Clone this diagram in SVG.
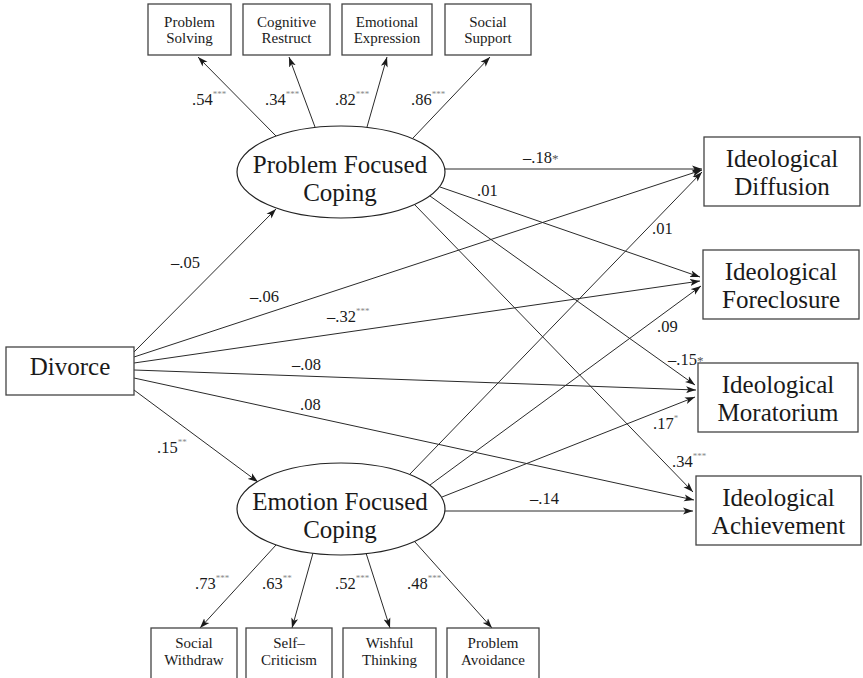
<svg xmlns="http://www.w3.org/2000/svg" width="863" height="678" viewBox="0 0 863 678" font-family="'Liberation Serif', 'Times New Roman', 'DejaVu Serif', serif">
<style>
.box{fill:#fff;stroke:#444;stroke-width:1.3}
.ell{fill:#fff;stroke:#222;stroke-width:1.2}
text{font-family:'Liberation Serif','Times New Roman','DejaVu Serif',serif}
.t{fill:#1a1a1a;text-anchor:middle}
.big{font-size:25px}
.sm{font-size:15px}
.lab{fill:#1a1a1a;font-size:16.5px}
.st{font-size:9px;fill:#888}
.st2{font-size:13px;fill:#555}
.c line{stroke:#2a2a2a;stroke-width:1;marker-end:url(#ah)}
</style>
<defs>
<marker id="ah" markerUnits="userSpaceOnUse" markerWidth="11" markerHeight="8" refX="10" refY="4" orient="auto">
<path d="M0,0.5 L10,4 L0,7.5 L2.5,4 Z" fill="#1a1a1a"/>
</marker>
</defs>
<rect width="863" height="678" fill="#fff"/>
<g class="c" id="connectors">
<line x1="276" y1="136" x2="198" y2="57"/>
<line x1="315" y1="127" x2="289" y2="57"/>
<line x1="367" y1="127" x2="387" y2="57"/>
<line x1="413" y1="138" x2="490" y2="57"/>
<line x1="134" y1="352" x2="276" y2="209"/>
<line x1="134" y1="357" x2="702" y2="170"/>
<line x1="134" y1="363" x2="700" y2="281"/>
<line x1="134" y1="370" x2="696" y2="390"/>
<line x1="134" y1="378" x2="694" y2="500"/>
<line x1="134" y1="390" x2="258" y2="482"/>
<line x1="445" y1="169" x2="702" y2="169"/>
<line x1="440" y1="187" x2="700" y2="277"/>
<line x1="430" y1="196" x2="695" y2="385"/>
<line x1="415" y1="205" x2="693" y2="492"/>
<line x1="410" y1="474" x2="702" y2="172"/>
<line x1="430" y1="485" x2="701" y2="286"/>
<line x1="442" y1="497" x2="695" y2="397"/>
<line x1="445" y1="511" x2="693" y2="511"/>
<line x1="276" y1="545" x2="200" y2="628"/>
<line x1="313" y1="553" x2="292" y2="628"/>
<line x1="366" y1="553" x2="390" y2="628"/>
<line x1="415" y1="542" x2="492" y2="628"/>
</g>
<g id="problem-solving"><rect class="box" x="148" y="4" width="83" height="51"/><text class="t sm" x="189.5" y="27">Problem</text><text class="t sm" x="189.5" y="43">Solving</text></g>
<g id="cognitive-restruct"><rect class="box" x="243" y="4" width="87" height="51"/><text class="t sm" x="286.5" y="27">Cognitive</text><text class="t sm" x="286.5" y="43">Restruct</text></g>
<g id="emotional-expression"><rect class="box" x="342" y="4" width="90" height="51"/><text class="t sm" x="387" y="27">Emotional</text><text class="t sm" x="387" y="43">Expression</text></g>
<g id="social-support"><rect class="box" x="445" y="4" width="86" height="51"/><text class="t sm" x="488" y="27">Social</text><text class="t sm" x="488" y="43">Support</text></g>
<g id="pfc"><ellipse class="ell" cx="341" cy="172" rx="104" ry="46"/><text class="t big" x="340" y="173">Problem Focused</text><text class="t big" x="340" y="201">Coping</text></g>
<g id="efc"><ellipse class="ell" cx="341" cy="509" rx="104" ry="46"/><text class="t big" x="340" y="510">Emotion Focused</text><text class="t big" x="340" y="538">Coping</text></g>
<g id="divorce"><rect class="box" x="6" y="347" width="128" height="48"/><text class="t big" x="70" y="375">Divorce</text></g>
<g id="diffusion"><rect class="box" x="704" y="137" width="156" height="69"/><text class="t big" x="782" y="166.5">Ideological</text><text class="t big" x="782" y="194.5">Diffusion</text></g>
<g id="foreclosure"><rect class="box" x="703" y="250" width="156" height="69"/><text class="t big" x="781" y="279.5">Ideological</text><text class="t big" x="781" y="307.5">Foreclosure</text></g>
<g id="moratorium"><rect class="box" x="698" y="363" width="160" height="69"/><text class="t big" x="778" y="392.5">Ideological</text><text class="t big" x="778" y="420.5">Moratorium</text></g>
<g id="achievement"><rect class="box" x="696" y="476" width="165" height="69"/><text class="t big" x="778.5" y="505.5">Ideological</text><text class="t big" x="778.5" y="533.5">Achievement</text></g>
<g id="social-withdraw"><rect class="box" x="151" y="628" width="86" height="62"/><text class="t sm" x="194" y="648">Social</text><text class="t sm" x="194" y="665">Withdraw</text></g>
<g id="self-criticism"><rect class="box" x="246" y="628" width="86" height="62"/><text class="t sm" x="289" y="648">Self–</text><text class="t sm" x="289" y="665">Criticism</text></g>
<g id="wishful-thinking"><rect class="box" x="343" y="628" width="93" height="62"/><text class="t sm" x="389.5" y="648">Wishful</text><text class="t sm" x="389.5" y="665">Thinking</text></g>
<g id="problem-avoidance"><rect class="box" x="447" y="628" width="92" height="62"/><text class="t sm" x="493" y="648">Problem</text><text class="t sm" x="493" y="665">Avoidance</text></g>
<g id="labels">
<text class="lab" x="192" y="105">.54<tspan class="st" dy="-8">***</tspan></text>
<text class="lab" x="265" y="105">.34<tspan class="st" dy="-8">***</tspan></text>
<text class="lab" x="335" y="105">.82<tspan class="st" dy="-8">***</tspan></text>
<text class="lab" x="411" y="105">.86<tspan class="st" dy="-8">***</tspan></text>
<text class="lab" x="171" y="268">–.05</text>
<text class="lab" x="250" y="302">–.06</text>
<text class="lab" x="327" y="322">–.32<tspan class="st" dy="-8">***</tspan></text>
<text class="lab" x="292" y="370">–.08</text>
<text class="lab" x="300" y="410">.08</text>
<text class="lab" x="157" y="453">.15<tspan class="st" dy="-8">**</tspan></text>
<text class="lab" x="523" y="163">–.18<tspan class="st2">*</tspan></text>
<text class="lab" x="477" y="196">.01</text>
<text class="lab" x="652" y="234">.01</text>
<text class="lab" x="657" y="332">.09</text>
<text class="lab" x="668" y="365">–.15<tspan class="st2">*</tspan></text>
<text class="lab" x="653" y="429">.17<tspan class="st" dy="-8">*</tspan></text>
<text class="lab" x="672" y="467">.34<tspan class="st" dy="-8">***</tspan></text>
<text class="lab" x="530" y="504">–.14</text>
<text class="lab" x="195" y="589">.73<tspan class="st" dy="-8">***</tspan></text>
<text class="lab" x="262" y="589">.63<tspan class="st" dy="-8">**</tspan></text>
<text class="lab" x="335" y="589">.52<tspan class="st" dy="-8">***</tspan></text>
<text class="lab" x="407" y="589">.48<tspan class="st" dy="-8">***</tspan></text>
</g>
</svg>
